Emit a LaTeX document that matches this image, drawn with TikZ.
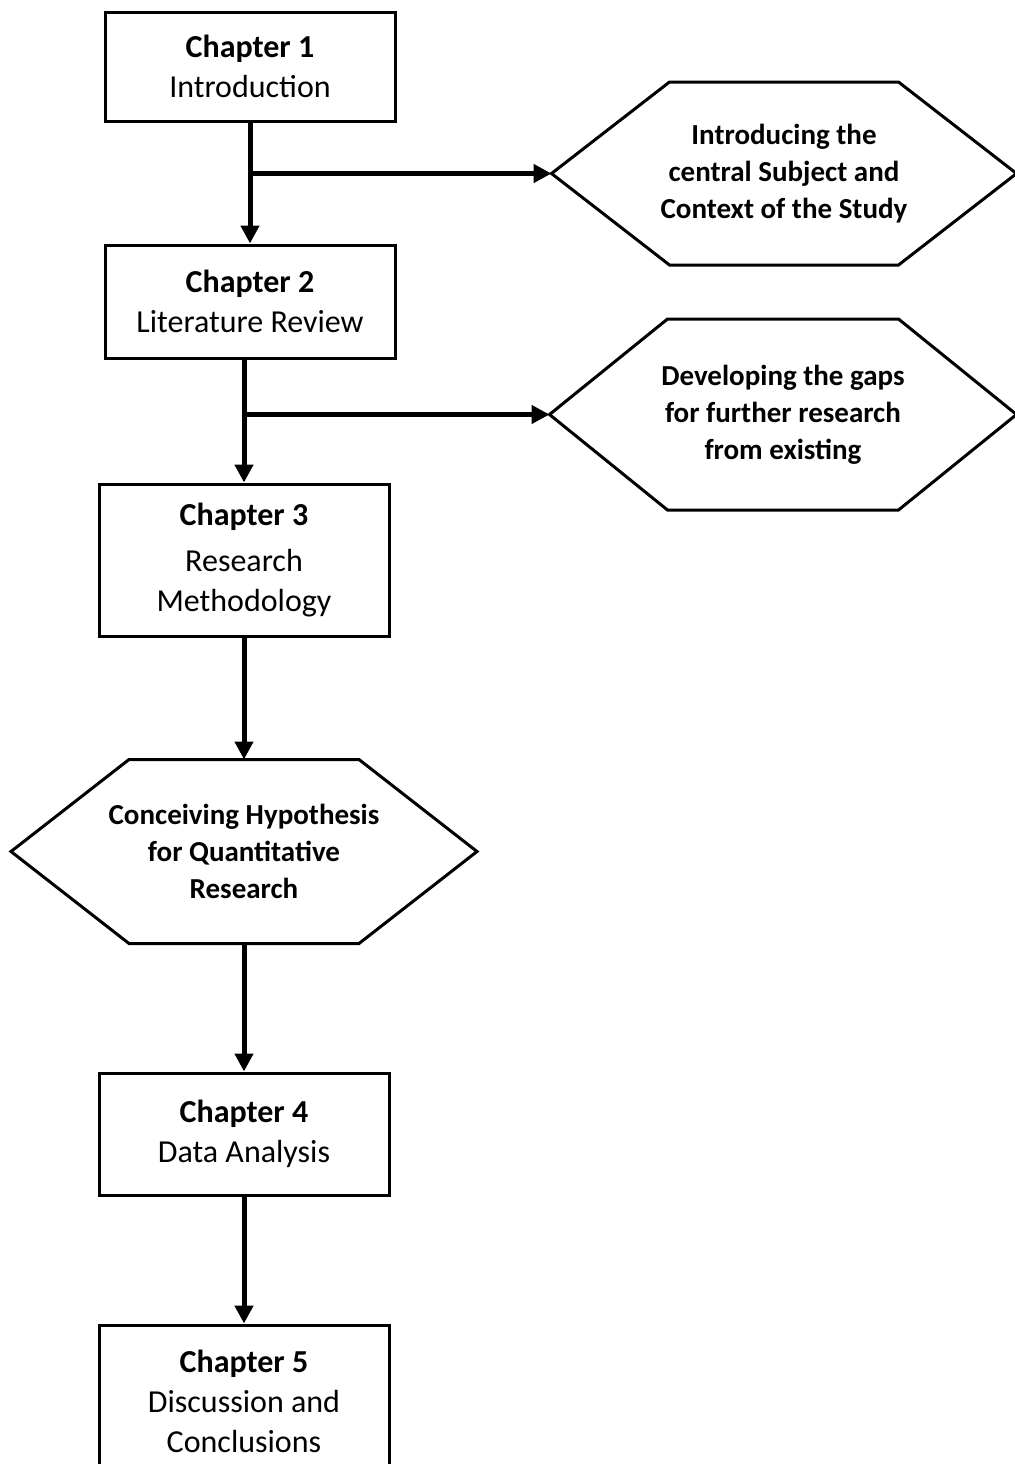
\documentclass[tikz,border=0pt]{standalone}
\usepackage{fontspec}
\setmainfont{Carlito}
\usepackage{tikz}
\usetikzlibrary{arrows.meta, positioning}

\begin{document}
\begin{tikzpicture}[
        node distance=62pt and 77pt,
        chapter/.style={rectangle, draw=black, line width=1.5pt, fill=white, minimum width=145pt, align=center, font=\fontsize{16}{20}\selectfont},
        hexnode/.style={rectangle, outer sep=0pt, minimum width=232.5pt, align=center, font=\fontsize{14.5}{18.5}\selectfont\bfseries},
        hexline/.style={draw=black, line width=1.5pt, line join=miter},
        arrow/.style={-{Triangle[length=9pt, width=9pt]}, line width=2.5pt, color=black}
    ]
    \useasboundingbox (0,0) rectangle (507.5pt,-732pt);

    % Chapters
    \node[chapter, minimum height=54.5pt] (ch1) at (125pt,-33.25pt) {\textbf{Chapter 1}\\Introduction};
    \node[chapter, minimum height=56.5pt] (ch2) [below=60.5pt of ch1] {\textbf{Chapter 2}\\Literature Review};
    \node[chapter, minimum height=76pt] (ch3) [below=61.5pt of ch2, xshift=-3pt] {\textbf{Chapter 3}\\[3pt]Research\\Methodology};

    % Hexagons
    \node[hexnode, minimum height=91.5pt] (h1) [right=77.5pt of ch1, yshift=-53.5pt] {Introducing the\\central Subject and\\Context of the Study};
    \node[hexnode, minimum width=233.5pt, minimum height=95.5pt] (h2) [right=76.5pt of ch2, yshift=-56.5pt] {Developing the gaps\\for further research\\from existing};
    \node[hexnode, minimum width=233pt, minimum height=92pt] (h3) [below=61pt of ch3] {Conceiving Hypothesis\\for Quantitative\\Research};

    \node[chapter, minimum height=61pt] (ch4) [below=64pt of h3] {\textbf{Chapter 4}\\Data Analysis};
    \node[chapter, minimum height=76pt] (ch5) [below=63.5pt of ch4] {\textbf{Chapter 5}\\Discussion and\\Conclusions};

    \foreach \h in {h1,h2,h3}
        \draw[hexline] (\h.west) -- ([xshift=59pt]\h.north west) -- ([xshift=-59pt]\h.north east)
            -- (\h.east) -- ([xshift=-59pt]\h.south east) -- ([xshift=59pt]\h.south west) -- cycle;

    % Connections
    \draw[arrow] (ch1.south) -- (ch2.north);
    \draw[arrow] (ch1.south |- h1.west) -- (h1.west);

    \draw[arrow] (ch3.north |- ch2.south) -- (ch3.north);
    \draw[arrow] (ch3.north |- h2.west) -- (h2.west);

    \draw[arrow] (ch3.south) -- (h3.north);
    \draw[arrow] (h3.south) -- (ch4.north);
    \draw[arrow] (ch4.south) -- (ch5.north);

\end{tikzpicture}
\end{document}
